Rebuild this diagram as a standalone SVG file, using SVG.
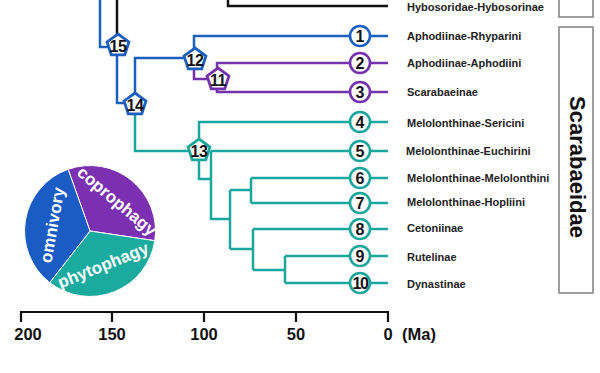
<svg xmlns="http://www.w3.org/2000/svg" width="600" height="373" viewBox="0 0 600 373">
<style>
.lb{stroke:#1b5fbf;stroke-width:2.5;fill:none}
.lp{stroke:#7431ad;stroke-width:2.5;fill:none}
.lt{stroke:#1aa69c;stroke-width:2.5;fill:none}
.lk{stroke:#111;stroke-width:2.5;fill:none}
.pent{fill:#fff;stroke-width:2.8}
.circ{fill:#fff;stroke-width:2.6}
.num{font-family:"Liberation Sans",Arial,sans-serif;font-weight:bold;font-size:16px;fill:#111;text-anchor:middle}
.lab{font-family:"Liberation Sans",Arial,sans-serif;font-weight:bold;font-size:11px;fill:#222}
.ax{font-family:"Liberation Sans",Arial,sans-serif;font-weight:bold;font-size:16.5px;fill:#111}
.pie{font-family:"Liberation Sans",Arial,sans-serif;font-weight:bold;font-size:17px;fill:#fff;text-anchor:middle}
.box{fill:#fff;stroke:#888;stroke-width:1.6}
</style>
<defs>
<path id="pg" d="M0,-11.5 L10.94,-3.55 L6.76,9.3 L-6.76,9.3 L-10.94,-3.55 Z"/>
</defs>
<g id="connectors">
<path class="lk" d="M117,0 V45 M228,0 V6 H388"/>
<path class="lb" d="M100,0 V47 H118 M117,45 V103 H135 M135,104 V58 H195 M194,59 V36 H388"/>
<path class="lp" d="M194,59 V79 H218 M217,79 V63 H388 M217,79 V92 H388"/>
<path class="lt" d="M135,104 V151 H199 M199,151 V122 H388 M199,151 V179 H211 M211,151 H388 M211,151 V219 H230 M230,190 V249 M230,190 H251 M251,178 V203 M251,178 H388 M251,203 H388 M230,249 H253 M253,229 V270 M253,229 H388 M253,270 H285 M285,256 V283 M285,256 H388 M285,283 H388"/>
</g>
<g id="node15"><use href="#pg" x="118" y="45.5" class="pent" stroke="#1b5fbf"/><text class="num" x="118" y="51.5" letter-spacing="-0.5">15</text></g>
<g id="node14"><use href="#pg" x="135" y="104.5" class="pent" stroke="#1b5fbf"/><text class="num" x="135" y="110.5" letter-spacing="-0.5">14</text></g>
<g id="node12"><use href="#pg" x="195" y="59.5" class="pent" stroke="#1b5fbf"/><text class="num" x="195" y="65.5" letter-spacing="-0.5">12</text></g>
<g id="node11"><use href="#pg" x="218" y="79.5" class="pent" stroke="#7431ad"/><text class="num" x="218" y="85.5" letter-spacing="-0.5">11</text></g>
<g id="node13"><use href="#pg" x="199" y="150.5" class="pent" stroke="#1aa69c"/><text class="num" x="199" y="156.5" letter-spacing="-0.5">13</text></g>
<g id="leafH"><text class="lab" x="407" y="11">Hybosoridae-Hybosorinae</text></g>
<g id="leaf1"><circle class="circ" cx="360" cy="36" r="10" stroke="#1b5fbf"/><text class="num" x="360" y="41.8">1</text><text class="lab" x="407" y="40">Aphodiinae-Rhyparini</text></g>
<g id="leaf2"><circle class="circ" cx="360" cy="63" r="10" stroke="#7431ad"/><text class="num" x="360" y="68.8">2</text><text class="lab" x="407" y="67">Aphodiinae-Aphodiini</text></g>
<g id="leaf3"><circle class="circ" cx="360" cy="92" r="10" stroke="#7431ad"/><text class="num" x="360" y="97.8">3</text><text class="lab" x="407" y="96">Scarabaeinae</text></g>
<g id="leaf4"><circle class="circ" cx="360" cy="122" r="10" stroke="#1aa69c"/><text class="num" x="360" y="127.8">4</text><text class="lab" x="407" y="127">Melolonthinae-Sericini</text></g>
<g id="leaf5"><circle class="circ" cx="360" cy="151" r="10" stroke="#1aa69c"/><text class="num" x="360" y="156.8">5</text><text class="lab" x="406" y="155">Melolonthinae-Euchirini</text></g>
<g id="leaf6"><circle class="circ" cx="360" cy="178" r="10" stroke="#1aa69c"/><text class="num" x="360" y="183.8">6</text><text class="lab" x="407" y="182">Melolonthinae-Melolonthini</text></g>
<g id="leaf7"><circle class="circ" cx="360" cy="203" r="10" stroke="#1aa69c"/><text class="num" x="360" y="208.8">7</text><text class="lab" x="407" y="206">Melolonthinae-Hopliini</text></g>
<g id="leaf8"><circle class="circ" cx="360" cy="229" r="10" stroke="#1aa69c"/><text class="num" x="360" y="234.8">8</text><text class="lab" x="407" y="232">Cetoniinae</text></g>
<g id="leaf9"><circle class="circ" cx="360" cy="256" r="10" stroke="#1aa69c"/><text class="num" x="360" y="261.8">9</text><text class="lab" x="407" y="261">Rutelinae</text></g>
<g id="leaf10"><circle class="circ" cx="360" cy="283" r="10" stroke="#1aa69c"/><text class="num" x="360" y="288.8" letter-spacing="-1.5" font-size="15">10</text><text class="lab" x="407" y="288">Dynastinae</text></g>
<g id="boxes">
<rect class="box" x="559" y="-3" width="34" height="20"/>
<rect class="box" x="559" y="27" width="34" height="266"/>
<text font-family="'Liberation Sans',Arial,sans-serif" font-weight="bold" font-size="22" fill="#111" text-anchor="middle" transform="translate(570,167) rotate(90)">Scarabaeidae</text>
</g>
<g id="pie">
<path d="M90,231 L68.1,169.3 A65.5,65.5 0 0 1 154.8,240.7 Z" fill="#7b30b2" stroke="#fff" stroke-width="1"/>
<path d="M90,231 L154.8,240.7 A65.5,65.5 0 0 1 49.7,282.6 Z" fill="#1aab9e" stroke="#fff" stroke-width="1"/>
<path d="M90,231 L49.7,282.6 A65.5,65.5 0 0 1 68.1,169.3 Z" fill="#1a5bc4" stroke="#fff" stroke-width="1"/>
<text class="pie" transform="translate(52,225) rotate(-80)" y="6">omnivory</text>
<text class="pie" transform="translate(117,201) rotate(40)" y="6">coprophagy</text>
<text class="pie" transform="translate(103,265) rotate(-22)" y="6">phytophagy</text>
</g>
<g id="axis">
<path d="M21,322 V312 H388 V322 M112,312 V322 M204,312 V322 M296,312 V322" stroke="#111" stroke-width="2.2" fill="none"/>
<text class="ax" x="28" y="340" text-anchor="middle">200</text>
<text class="ax" x="112" y="340" text-anchor="middle">150</text>
<text class="ax" x="204" y="340" text-anchor="middle">100</text>
<text class="ax" x="296" y="340" text-anchor="middle">50</text>
<text class="ax" x="388" y="340" text-anchor="middle">0</text>
<text class="ax" x="402" y="340">(Ma)</text>
</g>
</svg>
